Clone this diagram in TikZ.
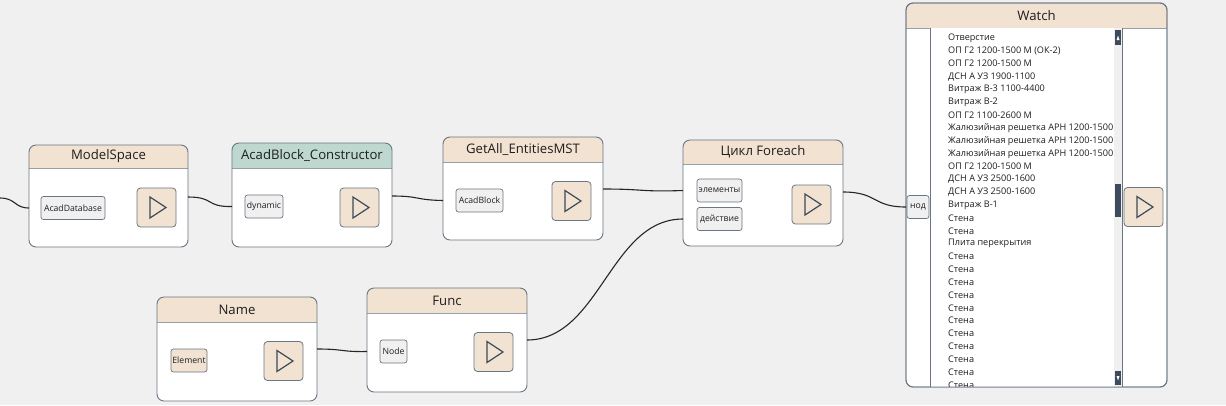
\documentclass[tikz,border=0pt]{standalone}
\usepackage{fontspec}
\setmainfont{Open Sans}
\usetikzlibrary{calc}
\definecolor{bgc}{HTML}{F0F0F0}
\definecolor{hdr}{HTML}{F1E2D1}
\definecolor{hdrgreen}{HTML}{BED8D0}
\definecolor{brd}{HTML}{6A7682}
\definecolor{portfill}{HTML}{F0F0F0}
\definecolor{tri}{HTML}{3D4B5C}
\definecolor{txt}{HTML}{1E1E1E}
\definecolor{scroll}{HTML}{3D4B5C}
\newcommand\flowblock[8]{%
  \node[blockbody, minimum width=#4bp, minimum height=#5bp, anchor=north west] (#1) at (#2,#3) {};
  \fill[#7] ([yshift=-#6bp]#1.north west) [rounded corners=7bp] -- (#1.north west) -- (#1.north east) [sharp corners] -- ([yshift=-#6bp]#1.north east) -- cycle;
  \draw[sepline] ([yshift=-#6bp]#1.north west) -- ([yshift=-#6bp]#1.north east);
  \draw[blockborder] (#1.north west) rectangle (#1.south east);
  \node[titletext] (#1-title) at ([yshift=-#6bp/2]#1.north) {#8};
}
\newcommand\playbutton[3]{%
  \node[playbtn] (#1) at (#2,#3) {};
  \draw[playtri] ([xshift=-6.5bp,yshift=10.5bp]#1.center) -- ([xshift=-6.5bp,yshift=-10.5bp]#1.center) -- ([xshift=9.5bp]#1.center) -- cycle;
}
\begin{document}
\begin{tikzpicture}[x=1bp,y=-1bp,
  blockbody/.style={fill=white, inner sep=0pt, outer sep=0pt, rounded corners=7bp},
  blockborder/.style={draw=brd, line width=0.9bp, rounded corners=7bp},
  sepline/.style={draw=brd!70, line width=0.8bp},
  titletext/.style={text=txt, font=\fontsize{13.2}{15}\selectfont, inner sep=0pt},
  port/.style={draw=brd, line width=0.7bp, fill=portfill, rounded corners=2.5bp, minimum height=23bp, inner xsep=0.3bp, inner ysep=0pt, text=txt, font=\fontsize{8.7}{10}\selectfont},
  playbtn/.style={draw=brd, line width=0.8bp, fill=hdr, rounded corners=3.5bp, minimum width=39bp, minimum height=39bp, inner sep=0pt},
  playtri/.style={draw=tri, line width=1.2bp, line join=miter},
  wire/.style={draw=black!85, line width=1.1bp},
  listitem/.style={anchor=west, inner sep=0pt, text=txt, font=\fontsize{9.15}{11}\selectfont}
]
\useasboundingbox (0,0) rectangle (1226,405);
\fill[bgc] (0,0) rectangle (1226,405);

% ---- blocks ----
\flowblock{ms}{29}{145}{159}{102}{23}{hdr}{ModelSpace}
\flowblock{ac}{232}{143}{160}{104}{25}{hdrgreen}{AcadBlock\_Constructor}
\flowblock{ga}{443}{137}{160}{103}{25}{hdr}{GetAll\_EntitiesMST}
\flowblock{fe}{683}{140}{160}{106}{24}{hdr}{Цикл Foreach}
\flowblock{nm}{157}{297}{160}{104}{25}{hdr}{Name}
\flowblock{fn}{367}{288}{160}{104}{25}{hdr}{Func}
\flowblock{wt}{906}{3}{261}{384}{25}{hdr}{Watch}

% ---- ports ----
\node[port, minimum width=64bp] (p-ms) at (73,208) {AcadDatabase};
\node[port, minimum width=38bp] (p-ac) at (264,206.5) {dynamic};
\node[port, minimum width=47bp] (p-ga) at (479.5,200.5) {AcadBlock};
\node[port, minimum width=45bp] (p-fe1) at (719.5,190.5) {элементы};
\node[port, minimum width=45bp] (p-fe2) at (719.5,219) {действие};
\node[port, minimum width=36bp, fill=hdr] (p-nm) at (189,360.5) {Element};
\node[port, minimum width=27bp] (p-fn) at (393.5,351.5) {Node};

% ---- play buttons ----
\playbutton{b-ms}{156.5}{207.5}
\playbutton{b-ac}{359.5}{207.5}
\playbutton{b-ga}{571.5}{201}
\playbutton{b-fe}{811.5}{204.5}
\playbutton{b-nm}{283.5}{361}
\playbutton{b-fn}{493.5}{352}
\playbutton{b-wt}{1143.5}{207}

% ---- watch list ----
\fill[white] (930,28) rectangle (1122,386.5);
\fill[bgc] (1114,28) rectangle (1122,386.5);
\draw[brd, line width=0.8bp] (930,28) -- (930,387);
\draw[brd, line width=0.8bp] (1122.5,28) -- (1122.5,387);
\fill[scroll] (1115,30) rectangle (1121,45);
\fill[white] (1116.5,40) -- (1119.5,40) -- (1118,35.5) -- cycle;
\fill[scroll] (1115,184) rectangle (1121,217);
\fill[scroll] (1115,371) rectangle (1121,385);
\fill[white] (1116.5,376) -- (1119.5,376) -- (1118,380.5) -- cycle;
\begin{scope}
\clip (931,28.5) rectangle (1113.5,386);
\foreach \t [count=\i] in {Отверстие,ОП Г2 1200-1500 М (ОК-2),ОП Г2 1200-1500 М,ДСН А УЗ 1900-1100,Витраж В-3 1100-4400,Витраж В-2,ОП Г2 1100-2600 М,Жалюзийная решетка АРН 1200-1500,Жалюзийная решетка АРН 1200-1500,Жалюзийная решетка АРН 1200-1500,ОП Г2 1200-1500 М,ДСН А УЗ 2500-1600,ДСН А УЗ 2500-1600,Витраж В-1,Стена,Стена,Плита перекрытия,Стена,Стена,Стена,Стена,Стена,Стена,Стена,Стена,Стена,Стена,Стена}
  \node[listitem] (li\i) at (948,{38+(\i-1)*12.85}) {\t};
\end{scope}
\node[port, minimum width=22bp] (p-wt) at (918,207) {нод};
\draw[blockborder, fill=none] (wt.north west) rectangle (wt.south east);

% ---- wires ----
\coordinate (in0) at (0,198);
\draw[wire] (in0) .. controls (16,198) and (14,208) .. (ms.west |- p-ms);
\draw[wire] (ms.east |- 0,197) .. controls (215,197) and (205,207) .. (ac.west |- p-ac);
\draw[wire] (ac.east |- 0,196) .. controls (420,196) and (415,200) .. (ga.west |- p-ga);
\draw[wire] (ga.east |- 0,189) .. controls (645,189) and (640,192) .. (fe.west |- p-fe1);
\draw[wire] (fn.east) .. controls (600,340) and (610,219) .. (fe.west |- p-fe2);
\draw[wire] (nm.east) .. controls (345,349) and (340,352) .. (fn.west |- p-fn);
\draw[wire] (fe.east |- 0,192) .. controls (878,192) and (872,207) .. (wt.west |- p-wt);
\end{tikzpicture}
\end{document}
